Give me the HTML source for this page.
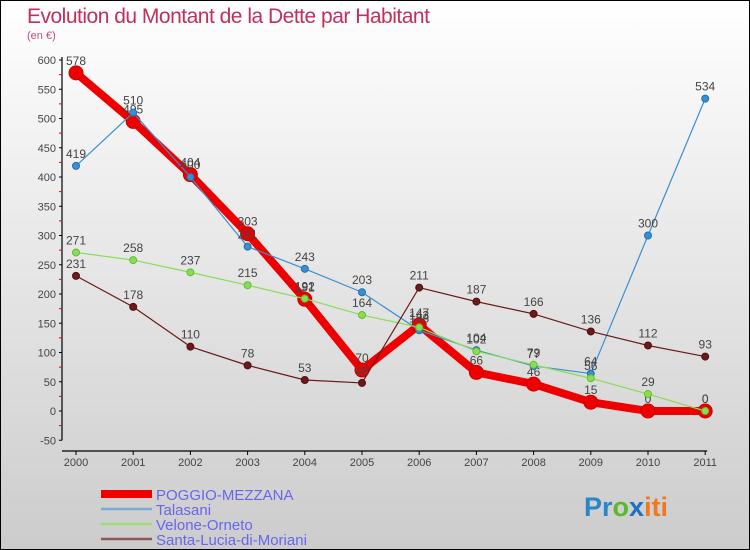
<!DOCTYPE html>
<html><head><meta charset="utf-8"><style>
body{margin:0;width:750px;height:550px;overflow:hidden;font-family:"Liberation Sans",sans-serif}
#wrap{position:relative;width:748px;height:548px;border:1px solid #000;background:linear-gradient(#ffffff,#cccccc)}
</style></head><body>
<div id="wrap">
<svg id="chart" width="748" height="548" style="position:absolute;left:0;top:0">
<text x="26" y="22" font-size="21" fill="#c0305a" style="letter-spacing:-0.5px">Evolution du Montant de la Dette par Habitant</text>
<text x="26" y="38" font-size="11" fill="#c0507a">(en €)</text>
<g id="axes"></g><g id="series"></g><g id="legend"></g>
<text x="583" y="515" font-size="27" font-weight="bold"><tspan fill="#2a86c8">Pr</tspan><tspan fill="#5cb82a">o</tspan><tspan fill="#1e6fc0">x</tspan><tspan fill="#f07820">iti</tspan></text>
</svg>
</div>
<script>
const years=["2000","2001","2002","2003","2004","2005","2006","2007","2008","2009","2010","2011"];
const yTicks=[-50,0,50,100,150,200,250,300,350,400,450,500,550,600];
const poggio=[578,495,404,303,191,70,147,66,46,15,0,0];
const talasani=[419,510,400,281,243,203,138,104,77,64,300,534];
const velone=[271,258,237,215,192,164,143,102,79,56,29,0];
const santa=[231,178,110,78,53,48,211,187,166,136,112,93];
const names=["POGGIO-MEZZANA","Talasani","Velone-Orneto","Santa-Lucia-di-Moriani"];
const NS="http://www.w3.org/2000/svg";
const X=i=>75+i*57.2;
const Y=v=>410-v*0.585;
function mk(tag,at,parent){const e=document.createElementNS(NS,tag);for(const k in at)e.setAttribute(k,at[k]);parent.appendChild(e);return e;}
const ax=document.getElementById('axes');
let l=mk('line',{x1:61,y1:Y(600)-3,x2:61,y2:Y(-50),stroke:'#000','stroke-width':1.2},ax);


l=mk('line',{x1:61,y1:450,x2:X(11)+2,y2:450,stroke:'#000','stroke-width':1.2},ax);


yTicks.forEach((v,i)=>{
 mk('line',{x1:58,y1:Y(v),x2:61,y2:Y(v),stroke:'#000'},ax);
 if(i<yTicks.length-1) mk('line',{x1:58,y1:Y(v+25),x2:61,y2:Y(v+25),stroke:'#e00'},ax);
 const t=mk('text',{x:55,y:Y(v)+4,'font-size':11,fill:'#444','text-anchor':'end'},ax);t.textContent=v;
 
 
});
years.forEach((y,i)=>{
 mk('line',{x1:X(i),y1:450,x2:X(i),y2:454,stroke:'#000'},ax);
 const t=mk('text',{x:X(i),y:465,'font-size':11,fill:'#444','text-anchor':'middle'},ax);t.textContent=y;
 
 
});
const sg=document.getElementById('series');
function draw(data,color,w,r,stroke,name){
 const g=mk('g',{},sg);
 
 
 mk('polyline',{points:data.map((v,i)=>X(i)+','+Y(v)).join(' '),fill:'none',stroke:color,'stroke-width':w,'stroke-linejoin':'round'},g);
 data.forEach((v,i)=>{
  const c=mk('circle',{cx:X(i),cy:Y(v),r:r,fill:color,stroke:stroke,'stroke-width':1},g);
  
  
  const t=mk('text',{x:X(i),y:Y(v)-8,'font-size':12,fill:'#444','text-anchor':'middle'},g);t.textContent=v;
 });
}
draw(poggio,'#ee0000',8,7,'#cc0000','series-poggio-mezzana');
draw(talasani,'#3a8fcf',1.2,3.5,'#2070b0','series-talasani');
draw(velone,'#88dd55',1.2,3.5,'#66bb33','series-velone-orneto');
draw(santa,'#6b1a1a',1.2,3.5,'#501010','series-santa-lucia-di-moriani');
const lg=document.getElementById('legend');
const lc=['#ee0000','#7aaad0','#99dd77','#8a5a5a'],lw=[8,2.5,2.5,2.5],ly=[493,508,523,538];
names.forEach((n,i)=>{
 const g=mk('g',{},lg);
 
 
 mk('line',{x1:100,y1:ly[i],x2:151,y2:ly[i],stroke:lc[i],'stroke-width':lw[i]},g);
 const t=mk('text',{x:155,y:ly[i]+6,'font-size':15,fill:'#6666ee'},g);t.textContent=n;
});
</script>
</body></html>
